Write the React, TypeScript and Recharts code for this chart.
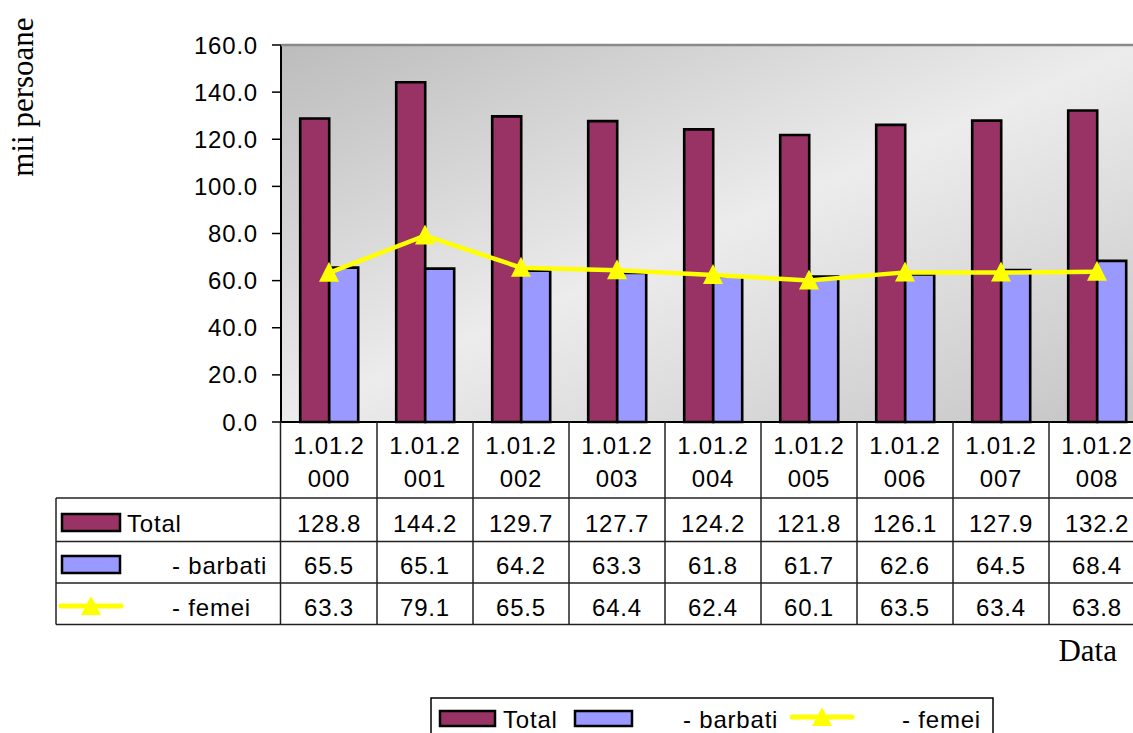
import React from 'react';
import { ComposedChart, Bar, Line, XAxis, YAxis, CartesianGrid } from 'recharts';

// ---------- data ----------
const categories = ['1.01.2000', '1.01.2001', '1.01.2002', '1.01.2003', '1.01.2004', '1.01.2005', '1.01.2006', '1.01.2007', '1.01.2008'];
const total = [128.8, 144.2, 129.7, 127.7, 124.2, 121.8, 126.1, 127.9, 132.2];
const barbati = [65.5, 65.1, 64.2, 63.3, 61.8, 61.7, 62.6, 64.5, 68.4];
const femei = [63.3, 79.1, 65.5, 64.4, 62.4, 60.1, 63.5, 63.4, 63.8];
const yTicks = [0, 20, 40, 60, 80, 100, 120, 140, 160];
const seriesNames = ['Total', '- barbati', '- femei'];
const yLabel = 'mii persoane';
const xLabel = 'Data';

const data = categories.map((c, i) => ({ cat: c, total: total[i], barbati: barbati[i], femei: femei[i] }));

// ---------- layout ----------
const CHART_W = 1150;
const CHART_H = 733;
const PLOT_L = 281;
const PLOT_T = 45;
const PLOT_B = 422;
const PLOT_R = 1145;
const PLOT_W = PLOT_R - PLOT_L;
const BAND = PLOT_W / categories.length;
const ROW_LINES = [498, 541.5, 583, 624.5];
const ROW_BASE = [531.5, 573.5, 615.5];
const CAT_BASE = [453.5, 486.5];
const TABLE_L = 56;

const SANS = '"Liberation Sans", Arial, Helvetica, sans-serif';
const SERIF = '"Liberation Serif", "Times New Roman", serif';
const FS = 24;
const LS = 0.8;
const GRID = '#222';

const C_TOTAL = '#993366';
const C_BARB = '#9999FF';
const C_FEM = '#FFFF00';

const seriesValues = [total, barbati, femei];

const TableTick = (props: any) => {
  const { x, payload } = props;
  const i = payload.index;
  const label = String(payload.value);
  return (
    <g>
      <line x1={x + BAND / 2} x2={x + BAND / 2} y1={PLOT_B} y2={ROW_LINES[3]} stroke={GRID} strokeWidth={1.5} />
      <text textAnchor="middle" fontFamily={SANS} fontSize={FS} letterSpacing={LS} fill="#000">
        <tspan x={x} y={CAT_BASE[0]}>{label.slice(0, 6)}</tspan>
        <tspan x={x} y={CAT_BASE[1]}>{label.slice(6)}</tspan>
      </text>
      {seriesValues.map((arr, r) => (
        <text key={r} x={x} y={ROW_BASE[r]} textAnchor="middle" fontFamily={SANS} fontSize={FS} letterSpacing={LS} fill="#000">
          {arr[i].toFixed(1)}
        </text>
      ))}
    </g>
  );
};

const Triangle = (props: any) => {
  const { cx, cy } = props;
  if (cx == null || cy == null) return null;
  return <path d={`M${cx},${cy - 11} L${cx + 10},${cy + 9} L${cx - 10},${cy + 9} Z`} fill={C_FEM} />;
};

const TriIcon = ({ x, y }: { x: number; y: number }) => (
  <g>
    <line x1={x - 30} x2={x + 30} y1={y} y2={y} stroke={C_FEM} strokeWidth={5} strokeLinecap="round" />
    <path d={`M${x},${y - 10} L${x + 10},${y + 9} L${x - 10},${y + 9} Z`} fill={C_FEM} />
  </g>
);

export default function App() {
  return (
    <div style={{ position: 'relative', width: 1133, height: 733, overflow: 'hidden', background: '#fff' }}>
      <style>{'body{margin:0;overflow:hidden;}'}</style>
      <svg width={1} height={1} style={{ position: 'absolute', left: 0, top: 0 }}>
        <defs>
          <linearGradient id="plotBg" x1="0" y1="0" x2="1" y2="1">
            <stop offset="0" stopColor="#bcbcbc" />
            <stop offset="0.5" stopColor="#ececec" />
            <stop offset="1" stopColor="#c4c4c4" />
          </linearGradient>
        </defs>
      </svg>
      <div style={{ position: 'absolute', left: 0, top: 0 }}>
        <ComposedChart
          width={CHART_W}
          height={CHART_H}
          data={data}
          margin={{ top: PLOT_T, right: CHART_W - PLOT_R, bottom: 0, left: 0 }}
          barCategoryGap="20%"
          barGap={0}
        >
          <CartesianGrid fill="url(#plotBg)" horizontal={false} vertical={false} stroke="none" />
          <XAxis
            dataKey="cat"
            height={CHART_H - PLOT_B}
            interval={0}
            tickLine={false}
            axisLine={{ stroke: '#000', strokeWidth: 2 }}
            tick={<TableTick />}
          />
          <YAxis
            width={PLOT_L}
            domain={[0, 160]}
            ticks={yTicks}
            interval={0}
            tickFormatter={(v: number) => v.toFixed(1)}
            tickSize={9}
            tickMargin={14}
            tickLine={{ stroke: '#000', strokeWidth: 1.5 }}
            axisLine={{ stroke: '#000', strokeWidth: 2 }}
            tick={{ fill: '#000', fontSize: FS, fontFamily: SANS, letterSpacing: LS }}
          />
          <Bar dataKey="total" name={seriesNames[0]} fill={C_TOTAL} stroke="#000" strokeWidth={2.6} isAnimationActive={false} />
          <Bar dataKey="barbati" name={seriesNames[1]} fill={C_BARB} stroke="#000" strokeWidth={2.6} isAnimationActive={false} />
          <Line
            dataKey="femei"
            name={seriesNames[2]}
            stroke={C_FEM}
            strokeWidth={4.5}
            dot={(p: any) => <Triangle key={`t-${p.index}`} {...p} />}
            activeDot={false}
            isAnimationActive={false}
          />
        </ComposedChart>
      </div>
      <svg width={CHART_W} height={CHART_H} style={{ position: 'absolute', left: 0, top: 0, pointerEvents: 'none' }}>
        {/* plot top border */}
        <line x1={PLOT_L} x2={PLOT_R} y1={PLOT_T} y2={PLOT_T} stroke="#8a8a8a" strokeWidth={2.5} />
        {/* table grid */}
        {ROW_LINES.map((y, k) => (
          <line key={k} x1={TABLE_L} x2={CHART_W} y1={y} y2={y} stroke={GRID} strokeWidth={1.5} />
        ))}
        <line x1={TABLE_L} x2={TABLE_L} y1={ROW_LINES[0]} y2={ROW_LINES[3]} stroke={GRID} strokeWidth={1.5} />
        <line x1={PLOT_L - 0.5} x2={PLOT_L - 0.5} y1={PLOT_B} y2={ROW_LINES[3]} stroke={GRID} strokeWidth={1.5} />
        {/* table legend cells */}
        <rect x={62} y={514} width={58} height={17} fill={C_TOTAL} stroke="#000" strokeWidth={2.5} />
        <text x={127} y={ROW_BASE[0]} fontFamily={SANS} fontSize={FS} letterSpacing={LS} fill="#000">{seriesNames[0]}</text>
        <rect x={62} y={556} width={58} height={17} fill={C_BARB} stroke="#000" strokeWidth={2.5} />
        <text x={172} y={ROW_BASE[1]} fontFamily={SANS} fontSize={FS} letterSpacing={LS} fill="#000">{seriesNames[1]}</text>
        <TriIcon x={91} y={606} />
        <text x={172} y={ROW_BASE[2]} fontFamily={SANS} fontSize={FS} letterSpacing={LS} fill="#000">{seriesNames[2]}</text>
        {/* axis titles */}
        <text transform="translate(33,97) rotate(-90)" textAnchor="middle" fontFamily={SERIF} fontSize={31} fill="#000">{yLabel}</text>
        <text x={1117} y={661} textAnchor="end" fontFamily={SERIF} fontSize={31} fill="#000">{xLabel}</text>
        {/* bottom legend */}
        <rect x={431} y={698} width={562} height={60} fill="#fff" stroke="#000" strokeWidth={1.5} />
        <rect x={440} y={711} width={55} height={15} fill={C_TOTAL} stroke="#000" strokeWidth={2.5} />
        <text x={503} y={728} fontFamily={SANS} fontSize={FS} letterSpacing={LS} fill="#000">{seriesNames[0]}</text>
        <rect x={575} y={711} width={57} height={15} fill={C_BARB} stroke="#000" strokeWidth={2.5} />
        <text x={683} y={728} fontFamily={SANS} fontSize={FS} letterSpacing={LS} fill="#000">{seriesNames[1]}</text>
        <TriIcon x={822} y={717} />
        <text x={902} y={728} fontFamily={SANS} fontSize={FS} letterSpacing={LS} fill="#000">{seriesNames[2]}</text>
      </svg>
    </div>
  );
}
